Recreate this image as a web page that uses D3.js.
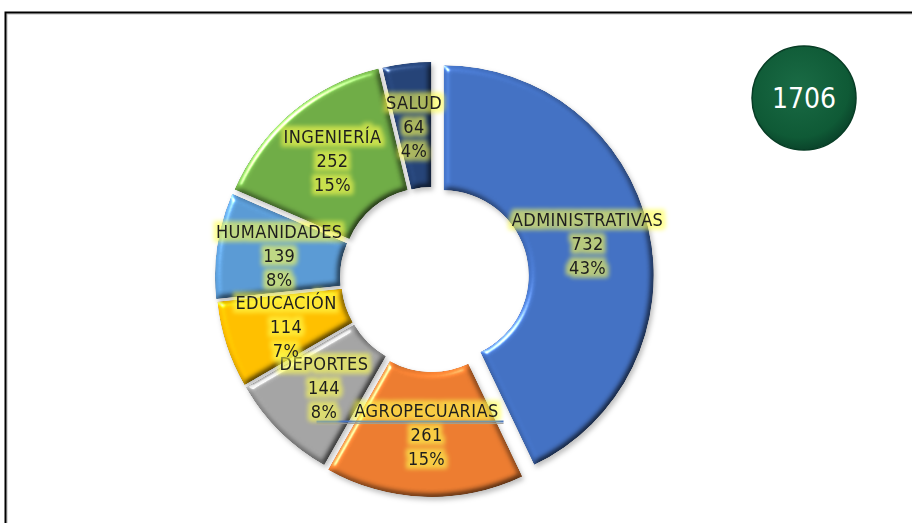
<!DOCTYPE html>
<html>
<head>
<meta charset="utf-8">
<script src="https://cdn.jsdelivr.net/npm/d3@7"></script>
<style>
  html, body { margin: 0; padding: 0; background: #fff; }
  svg { display: block; }
</style>
</head>
<body>
<svg id="chart" width="912" height="523"></svg>
<script>
// ---- data ----
const categories = ["ADMINISTRATIVAS", "AGROPECUARIAS", "DEPORTES", "EDUCACIÓN", "HUMANIDADES", "INGENIERÍA", "SALUD"];
const values = [732, 261, 144, 114, 139, 252, 64];
const percentLabels = ["43%", "15%", "8%", "7%", "8%", "15%", "4%"];
const totalLabel = "1706";

// ---- style ----
const colors = ["#4472C4", "#ED7D31", "#A5A5A5", "#FFC000", "#5B9BD5", "#70AD47", "#264478"];
const explode = [12, 9, 6, 6, 7, 7, 6];
const labelFont = "'DejaVu Sans Condensed', 'DejaVu Sans', Verdana, sans-serif";

const W = 912, H = 523;
const cx = 432, cy = 278, outerR = 210, innerR = 85;

const svg = d3.select("#chart");
const defs = svg.append("defs");

// bevel + shadow filter for slices
const bevel = defs.append("filter").attr("id", "bevel")
  .attr("x", "-15%").attr("y", "-15%").attr("width", "135%").attr("height", "135%")
  .attr("color-interpolation-filters", "sRGB");
bevel.append("feGaussianBlur").attr("in", "SourceAlpha").attr("stdDeviation", 3).attr("result", "blur");
const diff = bevel.append("feDiffuseLighting").attr("in", "blur").attr("surfaceScale", 3.5)
  .attr("diffuseConstant", 1).attr("lighting-color", "#fff").attr("result", "diff");
diff.append("feDistantLight").attr("azimuth", 225).attr("elevation", 60);
bevel.append("feComposite").attr("in", "diff").attr("in2", "SourceGraphic")
  .attr("operator", "arithmetic").attr("k1", 1.155).attr("k2", 0).attr("k3", 0).attr("k4", 0).attr("result", "shaded");
const spec = bevel.append("feSpecularLighting").attr("in", "blur").attr("surfaceScale", 3.5)
  .attr("specularConstant", 0.9).attr("specularExponent", 60).attr("lighting-color", "#fff").attr("result", "spec");
spec.append("feDistantLight").attr("azimuth", 225).attr("elevation", 35);
bevel.append("feComposite").attr("in", "spec").attr("in2", "SourceAlpha").attr("operator", "in").attr("result", "specIn");
bevel.append("feComposite").attr("in", "shaded").attr("in2", "specIn")
  .attr("operator", "arithmetic").attr("k1", 0).attr("k2", 1).attr("k3", 0.8).attr("k4", 0).attr("result", "lit");
bevel.append("feComposite").attr("in", "lit").attr("in2", "SourceAlpha").attr("operator", "in").attr("result", "final");
bevel.append("feGaussianBlur").attr("in", "SourceAlpha").attr("stdDeviation", 2.5).attr("result", "sblur");
bevel.append("feOffset").attr("in", "sblur").attr("dx", 1.5).attr("dy", 2.5).attr("result", "soff");
bevel.append("feFlood").attr("flood-color", "#000").attr("flood-opacity", 0.25).attr("result", "sc");
bevel.append("feComposite").attr("in", "sc").attr("in2", "soff").attr("operator", "in").attr("result", "shadow");
const bm = bevel.append("feMerge");
bm.append("feMergeNode").attr("in", "shadow");
bm.append("feMergeNode").attr("in", "final");

// yellow glow for labels
const glow = defs.append("filter").attr("id", "glow")
  .attr("x", "-20%").attr("y", "-60%").attr("width", "140%").attr("height", "220%")
  .attr("color-interpolation-filters", "sRGB");
glow.append("feMorphology").attr("in", "SourceAlpha").attr("operator", "dilate").attr("radius", 3.5).attr("result", "dil");
glow.append("feGaussianBlur").attr("in", "dil").attr("stdDeviation", 2).attr("result", "gb");
glow.append("feFlood").attr("flood-color", "#FFFF50").attr("flood-opacity", 0.62);
glow.append("feComposite").attr("in2", "gb").attr("operator", "in").attr("result", "g");
const gm = glow.append("feMerge");
gm.append("feMergeNode").attr("in", "g");
gm.append("feMergeNode").attr("in", "SourceGraphic");

// circle gradient
const rg = defs.append("radialGradient").attr("id", "greenGrad").attr("cx", "45%").attr("cy", "40%").attr("r", "60%");
rg.append("stop").attr("offset", "0%").attr("stop-color", "#1a6b45");
rg.append("stop").attr("offset", "80%").attr("stop-color", "#0f5a36");
rg.append("stop").attr("offset", "100%").attr("stop-color", "#0a452b");

// frame
svg.append("path").attr("d", `M6,${H} V13 H${W}`).attr("fill", "none")
  .attr("stroke", "#bbb").attr("stroke-width", 1).attr("transform", "translate(1,1)");
svg.append("path").attr("d", `M5.5,${H} V12.5 H${W}`).attr("fill", "none")
  .attr("stroke", "#000").attr("stroke-width", 2);

// pie
const data = categories.map((c, i) => ({ name: c, value: values[i], pct: percentLabels[i], i }));
const pie = d3.pie().value(d => d.value).sort(null);
const arcs = pie(data);
const arc = d3.arc().innerRadius(innerR).outerRadius(outerR);

const g = svg.append("g").attr("transform", `translate(${cx},${cy})`);

function offset(a) {
  const m = (a.startAngle + a.endAngle) / 2;
  const e = explode[a.data.i];
  return [Math.sin(m) * e, -Math.cos(m) * e];
}

g.selectAll("path.slice").data(arcs).enter().append("path")
  .attr("class", "slice")
  .attr("d", arc)
  .attr("fill", d => colors[d.data.i])
  .attr("transform", d => { const o = offset(d); return `translate(${o[0]},${o[1]})`; })
  .attr("filter", "url(#bevel)");

// labels
const lineH = 24;
const labels = g.selectAll("g.lbl").data(arcs).enter().append("g")
  .attr("class", "lbl")
  .attr("transform", d => {
    const c = arc.centroid(d); const o = offset(d);
    return `translate(${c[0] + o[0]},${c[1] + o[1]})`;
  });

// underline under AGROPECUARIAS label (leader line)
labels.filter(d => d.data.i === 1).append("line")
  .attr("x1", -110).attr("x2", 77).attr("y1", -13).attr("y2", -13)
  .attr("stroke", "#4472C4").attr("stroke-width", 2);
labels.filter(d => d.data.i === 1).append("line")
  .attr("x1", -110).attr("x2", 77).attr("y1", -11).attr("y2", -11)
  .attr("stroke", "#999").attr("stroke-width", 1);

labels.each(function(d) {
  const sel = d3.select(this);
  const lines = [d.data.name, String(d.data.value), d.data.pct];
  const t = sel.append("text")
    .attr("text-anchor", "middle")
    .attr("font-family", labelFont)
    .attr("font-size", 18)
    .attr("letter-spacing", 0.4)
    .attr("fill", "#1e1e1e")
    .attr("filter", "url(#glow)");
  lines.forEach((l, k) => {
    t.append("tspan").attr("x", 0).attr("y", (k - 1) * lineH + 7).text(l);
  });
});

// total circle
svg.append("circle").attr("cx", 804).attr("cy", 98).attr("r", 52)
  .attr("fill", "url(#greenGrad)")
  .attr("stroke", "#073d25").attr("stroke-width", 1.5);
svg.append("text").attr("x", 804).attr("y", 108).attr("text-anchor", "middle")
  .attr("font-family", labelFont).attr("font-size", 28)
  .attr("fill", "#fff").text(totalLabel);
</script>
</body>
</html>
